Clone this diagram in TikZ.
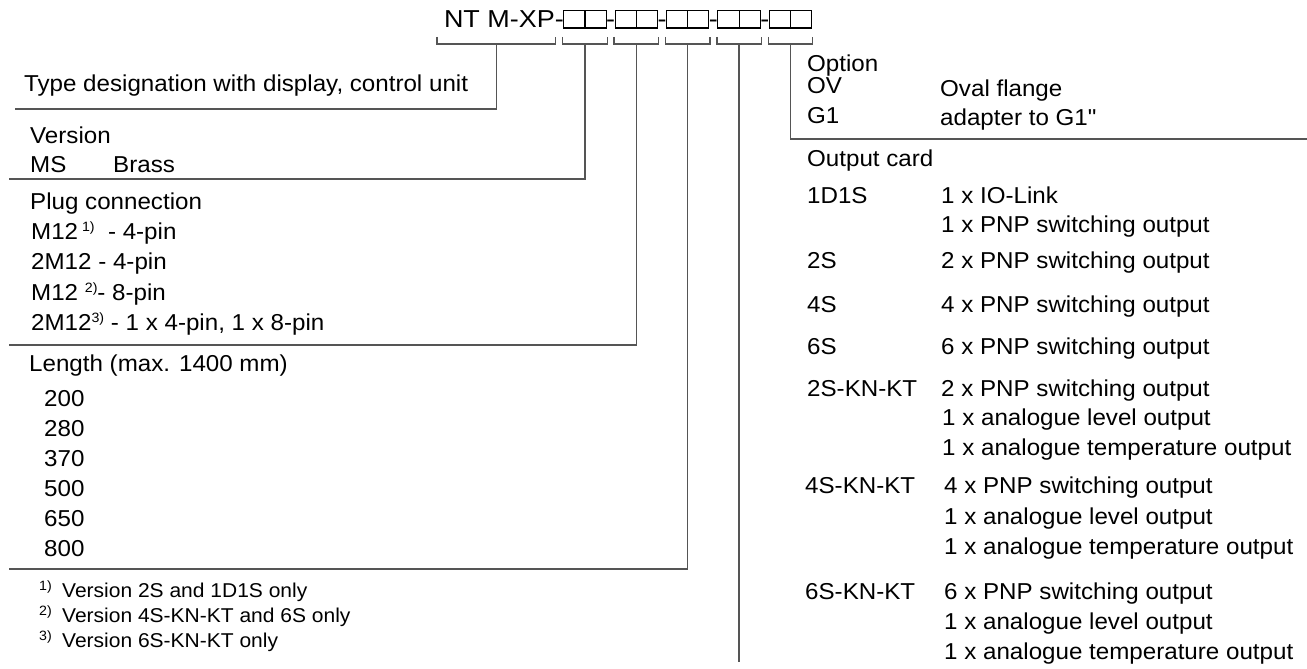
\documentclass[tikz,border=0pt]{standalone}
\usepackage{fontspec}
\setmainfont{Liberation Sans}[FakeStretch=1.05,Ligatures=TeXOff]
\newfontfamily\ttlfont{Liberation Sans}[FakeStretch=1.1,Ligatures=TeXOff]
\usepackage{tikz}
\usetikzlibrary{positioning,calc}
\definecolor{leadgray}{RGB}{85,85,85}
\newcommand{\supmark}[1]{\raisebox{7.5pt}{\fontsize{13.5}{15}\selectfont #1}}
\tikzset{
  lead/.style={draw=leadgray,line width=1.3pt},
  lbl/.style={anchor=base west,inner sep=0pt,font=\fontsize{23}{27}\selectfont},
  ttl/.style={anchor=base west,inner sep=0pt,outer sep=0pt,font=\ttlfont\fontsize{24.5}{29}\selectfont},
  fnote/.style={anchor=base west,inner sep=0pt,font=\fontsize{20}{24}\selectfont},
  fmark/.style={anchor=base west,inner sep=0pt,font=\fontsize{13.5}{15}\selectfont},
  cbox/.style={draw=black,line width=1.1pt,anchor=south west,inner sep=0pt,outer sep=0pt,minimum width=21.2pt,minimum height=17.5pt}
}

\begin{document}
\begin{tikzpicture}[x=1pt,y=-1pt]
  \useasboundingbox (0,0) rectangle (1307,669);

  \node[ttl] (ntm) at (444,28) {NT M-XP};
  \node[ttl] (d0) at (ntm.base east) {-};
  \node[cbox] (k1a) at (d0.base east) {};
  \node[cbox] (k1b) at (k1a.south east) {};
  \node[ttl] (d1) at (k1b.south east) {-};
  \node[cbox] (k2a) at (d1.base east) {};
  \node[cbox] (k2b) at (k2a.south east) {};
  \node[ttl] (d2) at (k2b.south east) {-};
  \node[cbox] (k3a) at (d2.base east) {};
  \node[cbox] (k3b) at (k3a.south east) {};
  \node[ttl] (d3) at (k3b.south east) {-};
  \node[cbox] (k4a) at (d3.base east) {};
  \node[cbox] (k4b) at (k4a.south east) {};
  \node[ttl] (d4) at (k4b.south east) {-};
  \node[cbox] (k5a) at (d4.base east) {};
  \node[cbox] (k5b) at (k5a.south east) {};

  \draw[lead] ([xshift=-7pt,yshift=-9pt]ntm.base west) |- ([xshift=-3pt,yshift=-16pt]ntm.base) -| ([xshift=1pt,yshift=-9pt]ntm.base east);
  \draw[lead] ([xshift=-1pt,yshift=-9pt]k1a.south west) |- ([yshift=-16pt]k1a.south east) -| ([xshift=1pt,yshift=-9pt]k1b.south east);
  \draw[lead] ([xshift=-1pt,yshift=-9pt]k2a.south west) |- ([yshift=-16pt]k2a.south east) -| ([xshift=1pt,yshift=-9pt]k2b.south east);
  \draw[lead] ([xshift=-1pt,yshift=-9pt]k3a.south west) |- ([yshift=-16pt]k3a.south east) -| ([xshift=1pt,yshift=-9pt]k3b.south east);
  \draw[lead] ([xshift=-1pt,yshift=-9pt]k4a.south west) |- ([yshift=-16pt]k4a.south east) -| ([xshift=1pt,yshift=-9pt]k4b.south east);
  \draw[lead] ([xshift=-1pt,yshift=-9pt]k5a.south west) |- ([yshift=-16pt]k5a.south east) -| ([xshift=1pt,yshift=-9pt]k5b.south east);

  \coordinate (typeEnd) at (15,109);
  \coordinate (verEnd) at (9,179);
  \coordinate (plugEnd) at (9,345);
  \coordinate (lenEnd) at (9,569);
  \coordinate (outEnd) at (0,662);
  \coordinate (optEnd) at (1307,139);

  \draw[lead] ([xshift=-3pt,yshift=-16pt]ntm.base) |- (typeEnd);
  \draw[lead] ([yshift=-16pt]k1a.south east) |- (verEnd);
  \draw[lead] ([yshift=-16pt]k2a.south east) |- (plugEnd);
  \draw[lead] ([yshift=-16pt]k3a.south east) |- (lenEnd);
  \draw[lead] ([yshift=-16pt]k4a.south east) -- (k4a.south east |- outEnd);
  \draw[lead] ([yshift=-16pt]k5a.south east) |- (optEnd);

  \node[lbl] (type) at (24,92) {Type designation with display, control unit};
  \node[lbl] (ver) at (30,143) {Version};
  \node[lbl] (ms) at (30,172) {MS};
  \node[lbl] (brass) at (113,172) {Brass};

  \node[lbl] (plug) at (30,209) {Plug connection};
  \node[lbl] (plug1) at (31,239) {M12\,\supmark{1)}\ \ - 4-pin};
  \node[lbl] (plug2) at (31,269) {2M12 - 4-pin};
  \node[lbl] (plug3) at (31,300) {M12\ \supmark{2)}- 8-pin};
  \node[lbl] (plug4) at (31,330) {2M12\supmark{3)} - 1 x 4-pin, 1 x 8-pin};

  \node[lbl] (len) at (29,371) {Length (max. 1400 mm)};
  \node[lbl] (len1) at (44,406) {200};
  \node[lbl] (len2) at (44,436) {280};
  \node[lbl] (len3) at (44,466) {370};
  \node[lbl] (len4) at (44,496) {500};
  \node[lbl] (len5) at (44,526) {650};
  \node[lbl] (len6) at (44,556) {800};

  \node[fmark] (fm1) at (39,590) {1)};
  \node[fnote] (fn1) at (62,597) {Version 2S and 1D1S only};
  \node[fmark] (fm2) at (39,615) {2)};
  \node[fnote] (fn2) at (62,622) {Version 4S-KN-KT and 6S only};
  \node[fmark] (fm3) at (39,640) {3)};
  \node[fnote] (fn3) at (62,647) {Version 6S-KN-KT only};

  \node[lbl] (opt) at (807,72) {Option};
  \node[lbl] (ov) at (807,93) {OV};
  \node[lbl] (ovd) at (940,96) {Oval flange};
  \node[lbl] (g1) at (807,123) {G1};
  \node[lbl] (g1d) at (940,125) {adapter to G1"};

  \node[lbl] (out) at (807,166) {Output card};
  \node[lbl] (o1d1s) at (807,203) {1D1S};
  \node[lbl] (o1d1sa) at (941,203) {1 x IO-Link};
  \node[lbl] (o1d1sb) at (941,232) {1 x PNP switching output};
  \node[lbl] (o2s) at (807,268) {2S};
  \node[lbl] (o2sa) at (941,268) {2 x PNP switching output};
  \node[lbl] (o4s) at (807,312) {4S};
  \node[lbl] (o4sa) at (941,312) {4 x PNP switching output};
  \node[lbl] (o6s) at (807,354) {6S};
  \node[lbl] (o6sa) at (941,354) {6 x PNP switching output};
  \node[lbl] (o2k) at (807,396) {2S-KN-KT};
  \node[lbl] (o2ka) at (941,396) {2 x PNP switching output};
  \node[lbl] (o2kb) at (942,425) {1 x analogue level output};
  \node[lbl] (o2kc) at (942,455) {1 x analogue temperature output};
  \node[lbl] (o4k) at (805,493) {4S-KN-KT};
  \node[lbl] (o4ka) at (944,493) {4 x PNP switching output};
  \node[lbl] (o4kb) at (944,524) {1 x analogue level output};
  \node[lbl] (o4kc) at (944,554) {1 x analogue temperature output};
  \node[lbl] (o6k) at (805,599) {6S-KN-KT};
  \node[lbl] (o6ka) at (944,599) {6 x PNP switching output};
  \node[lbl] (o6kb) at (944,629) {1 x analogue level output};
  \node[lbl] (o6kc) at (944,659) {1 x analogue temperature output};
\end{tikzpicture}
\end{document}
